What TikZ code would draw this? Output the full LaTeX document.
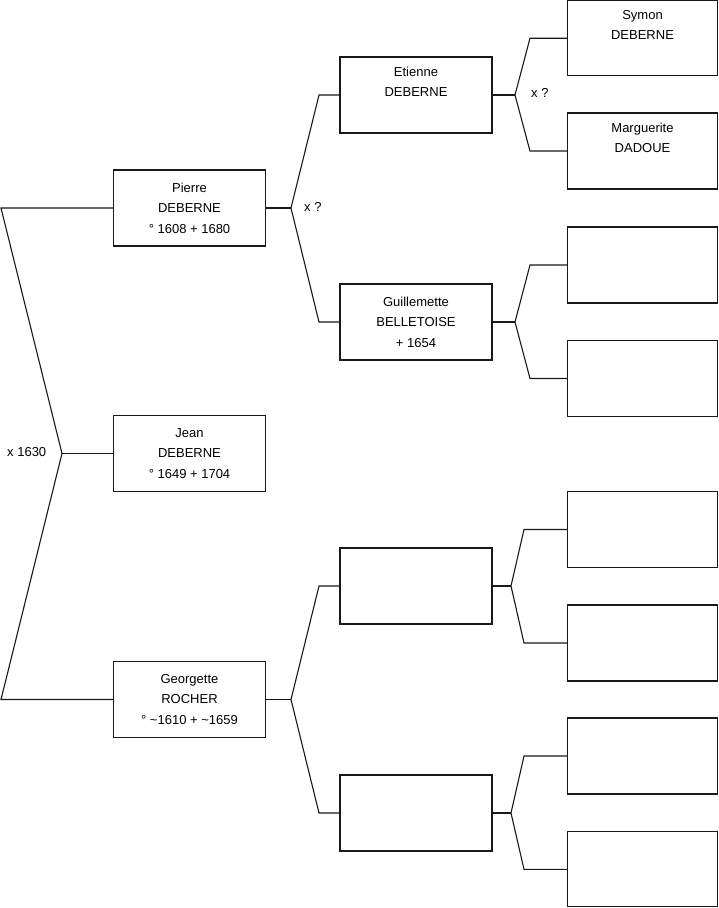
\documentclass[tikz,border=0pt]{standalone}
\usepackage{fontspec}
\setmainfont{Liberation Sans}
\begin{document}
\begin{tikzpicture}[x=1pt,y=-1pt,
  person/.style={draw=black!90,line width=1.1pt,minimum width=152pt,minimum height=76pt,inner sep=0pt,
    align=center,font=\fontsize{13}{20.5}\selectfont},
  link/.style={draw=black!90,line width=1.1pt},
  lbl/.style={anchor=west,inner sep=0pt,font=\fontsize{13}{16}\selectfont}]
\useasboundingbox (0,0) rectangle (719,908);
% column 1
\node[person] (pierre) at (189.5,208) {Pierre\\DEBERNE\\° 1608 + 1680};
\node[person] (jean) at (189.5,453.5) {Jean\\DEBERNE\\° 1649 + 1704};
\node[person] (georgette) at (189.5,699.5) {Georgette\\ROCHER\\° \textasciitilde1610 + \textasciitilde1659};
% column 2
\node[person] (etienne) at (416,95) {Etienne\\DEBERNE\\\strut};
\node[person] (guill) at (416,322) {Guillemette\\BELLETOISE\\+ 1654};
\node[person] (ea) at (416,586) {};
\node[person] (eb) at (416,813) {};
% column 3
\node[person,minimum width=150pt,minimum height=75pt] (symon) at (642.5,38.2) {Symon\\DEBERNE\\\strut};
\node[person,minimum width=150pt] (marg) at (642.5,151) {Marguerite\\DADOUE\\\strut};
\node[person,minimum width=150pt] (c3) at (642.5,265) {};
\node[person,minimum width=150pt] (c4) at (642.5,378.5) {};
\node[person,minimum width=150pt] (c5) at (642.5,529.5) {};
\node[person,minimum width=150pt] (c6) at (642.5,643) {};
\node[person,minimum width=150pt] (c7) at (642.5,756) {};
\node[person,minimum width=150pt,minimum height=75pt] (c8) at (642.5,869.3) {};
% left bracket
\coordinate (la) at (1,208);
\coordinate (lapex) at (62,453.5);
\coordinate (lb) at (1,699.5);
\draw[link] (pierre.west) -- (la) -- (lapex) -- (lb) -- (georgette.west);
\draw[link] (lapex) -- (jean.west);
\node[lbl] (x1630) at (7,452) {x 1630};
% Pierre
\coordinate (pa) at (291,208);
\coordinate (pu) at (319,95);
\coordinate (pd) at (319,322);
\draw[link] (pierre.east) -- (pa);
\draw[link] (etienne.west) -- (pu) -- (pa) -- (pd) -- (guill.west);
\node[lbl] (xp) at (304,207) {x ?};
% Georgette
\coordinate (ga) at (291,699.5);
\coordinate (gu) at (319,586);
\coordinate (gd) at (319,813);
\draw[link] (georgette.east) -- (ga);
\draw[link] (ea.west) -- (gu) -- (ga) -- (gd) -- (eb.west);
% Etienne
\coordinate (ta) at (515,95);
\coordinate (tu) at (530,38.2);
\coordinate (td) at (530,151);
\draw[link] (etienne.east) -- (ta);
\draw[link] (symon.west) -- (tu) -- (ta) -- (td) -- (marg.west);
\node[lbl] (xe) at (531,93) {x ?};
% Guillemette
\coordinate (ua) at (515,322);
\coordinate (uu) at (530,265);
\coordinate (ud) at (530,378.5);
\draw[link] (guill.east) -- (ua);
\draw[link] (c3.west) -- (uu) -- (ua) -- (ud) -- (c4.west);
% ea
\coordinate (aa) at (511,586);
\coordinate (au) at (524,529.5);
\coordinate (ad) at (524,643);
\draw[link] (ea.east) -- (aa);
\draw[link] (c5.west) -- (au) -- (aa) -- (ad) -- (c6.west);
% eb
\coordinate (ba) at (511,813);
\coordinate (bu) at (524,756);
\coordinate (bd) at (524,869.3);
\draw[link] (eb.east) -- (ba);
\draw[link] (c7.west) -- (bu) -- (ba) -- (bd) -- (c8.west);
\end{tikzpicture}
\end{document}
